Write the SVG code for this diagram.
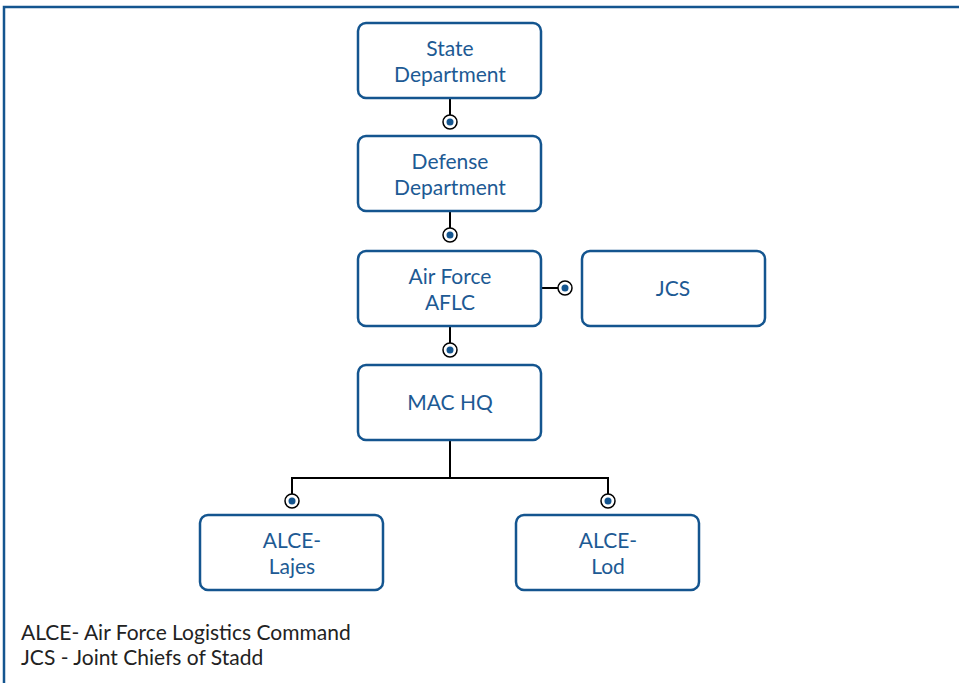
<svg xmlns="http://www.w3.org/2000/svg" width="959" height="683" viewBox="0 0 959 683">
<defs>
<style>
.frame{fill:none;stroke:#14558f;stroke-width:2.5}
.box{fill:#fff;stroke:#14558f;stroke-width:2.5}
.lbl{font-family:Lato,"Noto Sans",sans-serif;font-size:21px;fill:#1d5a94;text-anchor:middle}
.leg{font-family:Lato,"Noto Sans",sans-serif;font-size:21px;fill:#222}
.ln{fill:none;stroke:#000;stroke-width:2}
.ring{fill:#fff;stroke:#000;stroke-width:1.5}
.dot{fill:#14558f}
</style>
</defs>
<rect x="0" y="0" width="959" height="683" fill="#fff"/>
<rect class="frame" x="4" y="7" width="970" height="700"/>
<g id="connectors">
<line class="ln" x1="450" y1="98" x2="450" y2="115"/>
<circle class="ring" cx="450" cy="122" r="7"/><circle class="dot" cx="450" cy="122" r="3.5"/>
<line class="ln" x1="450" y1="211" x2="450" y2="228"/>
<circle class="ring" cx="450" cy="235" r="7"/><circle class="dot" cx="450" cy="235" r="3.5"/>
<line class="ln" x1="450" y1="326" x2="450" y2="343"/>
<circle class="ring" cx="450" cy="350" r="7"/><circle class="dot" cx="450" cy="350" r="3.5"/>
<line class="ln" x1="541" y1="288" x2="558" y2="288"/>
<circle class="ring" cx="565" cy="288" r="7"/><circle class="dot" cx="565" cy="288" r="3.5"/>
<polyline class="ln" points="450,440 450,478"/>
<polyline class="ln" points="292,494 292,478 608,478 608,494"/>
<circle class="ring" cx="292" cy="501" r="7"/><circle class="dot" cx="292" cy="501" r="3.5"/>
<circle class="ring" cx="608" cy="501" r="7"/><circle class="dot" cx="608" cy="501" r="3.5"/>
</g>
<g id="state">
<rect class="box" x="358" y="23" width="183" height="75" rx="8"/>
<text class="lbl" x="450" y="56">State</text>
<text class="lbl" x="450" y="82">Department</text>
</g>
<g id="defense">
<rect class="box" x="358" y="136" width="183" height="75" rx="8"/>
<text class="lbl" x="450" y="169">Defense</text>
<text class="lbl" x="450" y="195">Department</text>
</g>
<g id="airforce">
<rect class="box" x="358" y="251" width="183" height="75" rx="8"/>
<text class="lbl" x="450" y="284">Air Force</text>
<text class="lbl" x="450" y="310">AFLC</text>
</g>
<g id="jcs">
<rect class="box" x="582" y="251" width="183" height="75" rx="8"/>
<text class="lbl" x="673" y="296">JCS</text>
</g>
<g id="machq">
<rect class="box" x="358" y="365" width="183" height="75" rx="8"/>
<text class="lbl" x="450" y="410">MAC HQ</text>
</g>
<g id="lajes">
<rect class="box" x="200" y="515" width="183" height="75" rx="8"/>
<text class="lbl" x="292" y="548">ALCE-</text>
<text class="lbl" x="292" y="574">Lajes</text>
</g>
<g id="lod">
<rect class="box" x="516" y="515" width="183" height="75" rx="8"/>
<text class="lbl" x="608" y="548">ALCE-</text>
<text class="lbl" x="608" y="574">Lod</text>
</g>
<g id="legend">
<text class="leg" x="21" y="640">ALCE- Air Force Logistics Command</text>
<text class="leg" x="21" y="665">JCS - Joint Chiefs of Stadd</text>
</g>
</svg>
